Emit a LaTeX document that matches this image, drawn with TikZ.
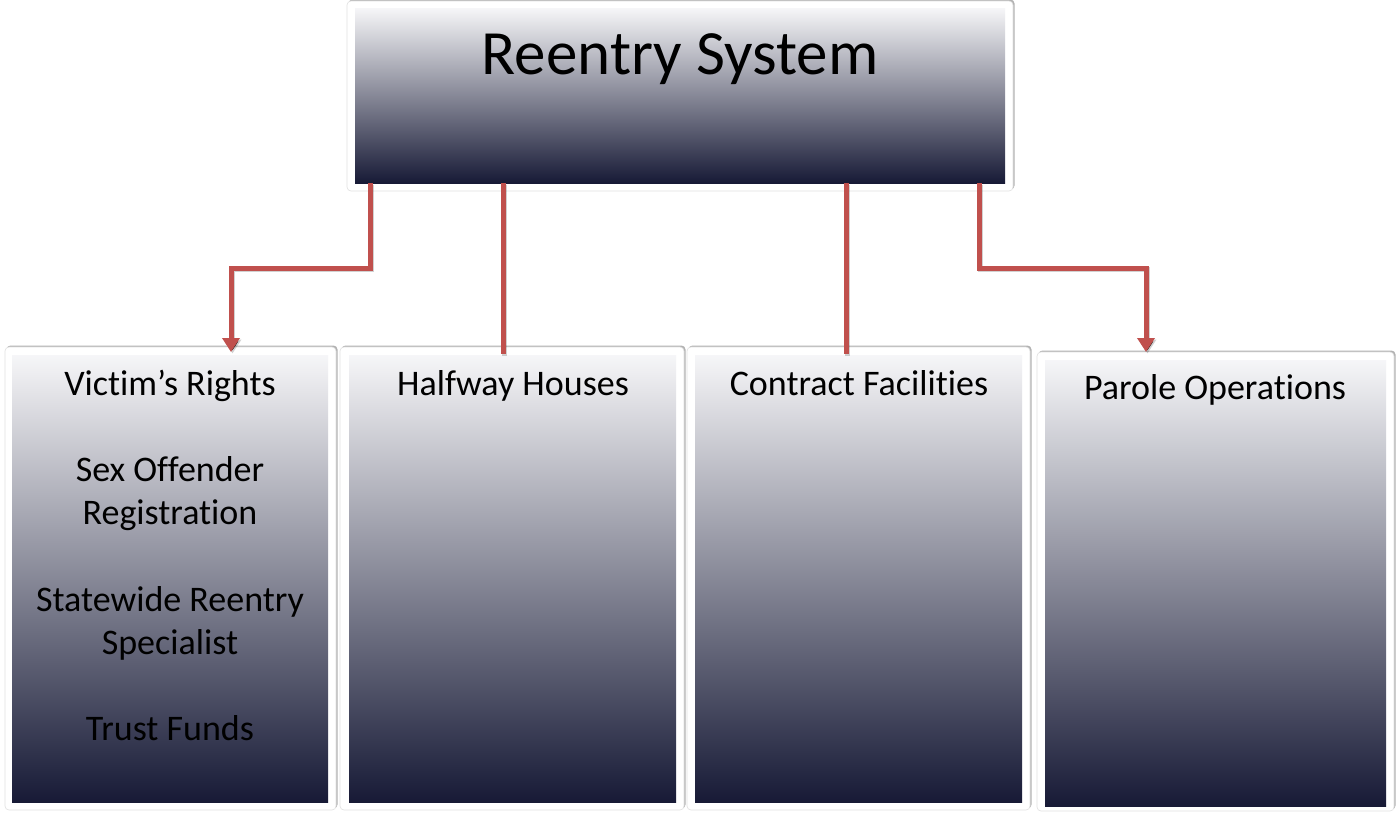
\documentclass[tikz,border=0pt]{standalone}
\usepackage{fontspec}
\setmainfont[Ligatures={NoCommon}]{Carlito}
\usetikzlibrary{arrows.meta,shadows,calc}
\definecolor{navy}{HTML}{171A36}
\definecolor{conred}{HTML}{C0504D}
\definecolor{topw}{HTML}{F6F6F8}
\definecolor{midg}{HTML}{85869C}
\begin{document}
\begin{tikzpicture}[x=1pt,y=-1pt,
  frame/.style={draw=black!12, line width=0.6pt, fill=white, rounded corners=4pt, inner sep=0pt, outer sep=0pt,
    drop shadow={shadow xshift=1.5pt, shadow yshift=1.5pt, opacity=0.3, fill=black}},
  grad/.style={draw=none, shading=axis, top color=topw, middle color=midg, bottom color=navy, inner sep=0pt, outer sep=0pt},
  lbl/.style={font=\fontsize{36}{43}\selectfont, text=black, inner sep=0pt, anchor=base},
  conn/.style={draw=conred, line width=5pt,
    preaction={draw=black, draw opacity=0.18, line width=5pt, transform canvas={shift={(1.5pt,-1.5pt)}}}},
  tip/.style={-{Triangle[length=14pt,width=17pt]}}
]
\useasboundingbox (0,0) rectangle (1397,812);
\fill[white] (0,0) rectangle (1397,812);

% top box
\node[frame, minimum width=666pt, minimum height=190pt] (top) at (680,96) {};
\node[grad, minimum width=650pt, minimum height=175pt] (topin) at (680,95.5) {};
\node[font=\fontsize{63}{70}\selectfont, inner sep=0pt, anchor=base] (title) at (680,74) {Reentry System};

% bottom boxes
\node[frame, minimum width=331pt, minimum height=463pt] (box1) at (170.5,578.5) {};
\node[grad, minimum width=316pt, minimum height=447pt] (box1in) at (170,578.5) {};
\node[frame, minimum width=344pt, minimum height=463pt] (box2) at (512,578.5) {};
\node[grad, minimum width=327pt, minimum height=447pt] (box2in) at (512.5,578.5) {};
\node[frame, minimum width=343pt, minimum height=463pt] (box3) at (858.5,578.5) {};
\node[grad, minimum width=327pt, minimum height=447pt] (box3in) at (858.5,578.5) {};
\node[frame, minimum width=357pt, minimum height=459pt] (box4) at (1215.5,581.5) {};
\node[grad, minimum width=341pt, minimum height=446pt] (box4in) at (1215.5,583) {};

% labels
\node[lbl] (v1) at (170,395) {Victim’s Rights};
\node[lbl] (v2) at (170,481) {Sex Offender};
\node[lbl] (v3) at (170,524) {Registration};
\node[lbl] (v4) at (170,611) {Statewide Reentry};
\node[lbl] (v5) at (170,654) {Specialist};
\node[lbl] (v6) at (170,740) {Trust Funds};
\node[lbl] (h1) at (513,395) {Halfway Houses};
\node[lbl] (c1) at (859,395) {Contract Facilities};
\node[lbl] (p1) at (1215,399) {Parole Operations};

% connectors
\draw[conn, tip] ([xshift=15pt]topin.south west) -- ++(0,85) -| ($(box1.north west)+(226,5)$);
\draw[conn] ([xshift=148pt]topin.south west) -- ($(topin.south west |- box2.north)+(148,7)$);
\draw[conn] ([xshift=491pt]topin.south west) -- ($(topin.south west |- box3.north)+(491,7)$);
\draw[conn, tip] ([xshift=624pt]topin.south west) -- ++(0,85) -| ($(box4.north west)+(109,0)$);
\end{tikzpicture}
\end{document}
